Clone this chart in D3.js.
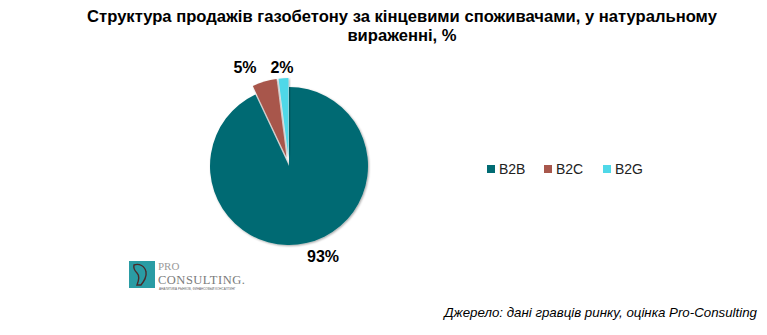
<!DOCTYPE html>
<html>
<head>
<meta charset="utf-8">
<script src="https://cdn.jsdelivr.net/npm/d3@7"></script>
<style>
  html, body { margin: 0; padding: 0; background: #fff; }
  svg { display: block; font-family: Arial, "Liberation Sans", sans-serif; }
</style>
</head>
<body>
<svg id="chart" width="767" height="335"></svg>
<script>
// Sales structure of aerated concrete by end consumer
const categories = ["B2B", "B2C", "B2G"];
const shares = [93, 5, 2];
const colors = ["#016b73", "#a8574c", "#4fd8e8"];
const explode = [0, 9, 9];
const titleLines = ["Структура продажів газобетону за кінцевими споживачами, у натуральному", "вираженні, %"];
const sourceText = "Джерело: дані гравців ринку, оцінка Pro-Consulting";

const svg = d3.select("#chart");

// drop shadow for slices
const defs = svg.append("defs");
const f = defs.append("filter").attr("id", "shadow").attr("x", "-20%").attr("y", "-20%").attr("width", "140%").attr("height", "140%");
f.append("feDropShadow").attr("dx", 1).attr("dy", 1).attr("stdDeviation", 1.2).attr("flood-color", "#000").attr("flood-opacity", 0.35);

// title
svg.append("g").selectAll("text").data(titleLines).join("text")
  .attr("x", 402).attr("y", (d, i) => 22 + i * 19)
  .attr("text-anchor", "middle")
  .attr("font-size", 16.6).attr("font-weight", "bold").attr("fill", "#000")
  .text(d => d);

// pie
const cx = 289, cy = 166, r = 79;
const data = categories.map((c, i) => ({ cat: c, value: shares[i], color: colors[i], off: explode[i] }));
const pie = d3.pie().value(d => d.value).sort(null);
const arc = d3.arc().innerRadius(0).outerRadius(r);
const arcs = pie(data);

const g = svg.append("g").attr("transform", `translate(${cx},${cy})`);
g.selectAll("path").data(arcs).join("path")
  .attr("d", arc)
  .attr("fill", d => d.data.color)
  .attr("filter", "url(#shadow)")
  .attr("transform", d => {
    const a = (d.startAngle + d.endAngle) / 2;
    return `translate(${Math.sin(a) * d.data.off},${-Math.cos(a) * d.data.off})`;
  });

// data labels
const labelPos = [[323, 256], [245, 67], [282, 67]];
g.selectAll("text.lbl").data(arcs).join("text")
  .attr("class", "lbl")
  .attr("x", (d, i) => labelPos[i][0] - cx)
  .attr("y", (d, i) => labelPos[i][1] - cy + 6)
  .attr("text-anchor", "middle")
  .attr("font-size", 16).attr("font-weight", "bold").attr("fill", "#000")
  .text(d => d.data.value + "%");

// legend
const legendX = [487, 544, 603];
const lg = svg.append("g");
const items = lg.selectAll("g").data(data).join("g")
  .attr("transform", (d, i) => `translate(${legendX[i]},169)`);
items.append("rect").attr("x", 0).attr("y", -4).attr("width", 8).attr("height", 8).attr("fill", d => d.color);
items.append("text").attr("x", 12).attr("y", 5).attr("font-size", 14).attr("fill", "#222").text(d => d.cat);

// logo
const logo = svg.append("g").attr("transform", "translate(129,261)");
logo.append("rect").attr("x", 0).attr("y", 0).attr("width", 26).attr("height", 27).attr("fill", "#2a9ca4");
logo.append("path").attr("d", "M5,4 C10,2 16,5 17,11 C18,16 15,20 12,24 L8,24 C10,19 11,15 8,12 C6,10 4,8 5,4 Z")
  .attr("fill", "none").attr("stroke", "#4a2a2a").attr("stroke-width", 1.4);
logo.append("text").attr("x", 29).attr("y", 9).attr("font-family", "'Liberation Serif', serif").attr("font-size", 11).attr("fill", "#9a9a9a").text("PRO");
logo.append("text").attr("x", 29).attr("y", 23).attr("font-family", "'Liberation Serif', serif").attr("font-size", 12.5).attr("fill", "#7a7a7a").attr("letter-spacing", 0.5).text("CONSULTING.");
logo.append("text").attr("x", 30).attr("y", 29).attr("font-size", 3).attr("fill", "#666").text("АНАЛИТИКА РЫНКОВ, ФИНАНСОВЫЙ КОНСАЛТИНГ");

// source
svg.append("text").attr("x", 757).attr("y", 317).attr("text-anchor", "end")
  .attr("font-size", 13.3).attr("font-style", "italic").attr("fill", "#000")
  .text(sourceText);
</script>
</body>
</html>
